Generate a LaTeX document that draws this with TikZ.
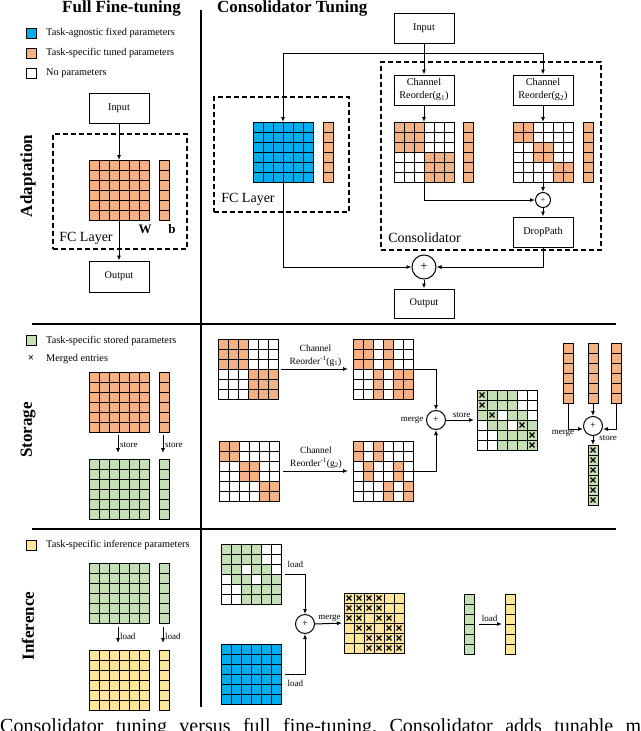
\documentclass[tikz,border=0pt]{standalone}
\usepackage{fontspec}
\setmainfont{Liberation Serif}
\usetikzlibrary{arrows.meta}
\definecolor{cB}{HTML}{00AEEF}
\definecolor{cO}{HTML}{F4B183}
\definecolor{cG}{HTML}{C5E0B4}
\definecolor{cY}{HTML}{FFE699}
\definecolor{cW}{HTML}{FFFFFF}
\newcommand\fs[2]{\fontsize{#1}{#2}\selectfont}
\tikzset{
  cellbase/.style={draw=black,line width=0.9pt},
  cellO/.style={cellbase,fill=cO},
  cellB/.style={cellbase,fill=cB},
  cellG/.style={cellbase,fill=cG},
  cellY/.style={cellbase,fill=cY},
  cellW/.style={cellbase,fill=cW},
  xmark/.style={path picture={\draw[line width=1.1pt,black] (path picture bounding box.center) +(-2.4,-2.4) -- +(2.4,2.4) +(-2.4,2.4) -- +(2.4,-2.4);}},
  cellGX/.style={cellG,xmark},
  cellYX/.style={cellY,xmark},
  mbox/.style={draw=none,inner sep=0,outer sep=0,anchor=north west},
  box/.style={draw,line width=0.9pt,fill=white,minimum width=60pt,minimum height=30pt,inner sep=1pt,align=center,font=\fs{10.3}{13}},
  dbox/.style={draw,line width=1.1pt,dash pattern=on 5pt off 3pt,inner sep=0},
  arr/.style={line width=1pt,-{Latex[length=5pt,width=4pt]}},
  plus/.style={circle,draw,line width=1pt,inner sep=0,fill=white},
  lbl/.style={font=\fs{9}{10},inner sep=1.5pt},
  leg/.style={draw,line width=0.8pt,minimum size=10pt,inner sep=0},
  legt/.style={anchor=west,font=\fs{10.3}{12},inner sep=0},
  sect/.style={rotate=90,font=\bfseries\fs{17}{20},inner sep=0},
  sep/.style={line width=1.2pt},
  big/.style={font=\fs{14}{16},inner sep=0},
  capw/.style={anchor=base west,font=\fs{20}{24},inner sep=0},
}
\newcommand\solid[6]{%
  \foreach \c in {1,...,#4} {\foreach \r in {1,...,#5} {
    \path[cell#6] ({#2+(\c-1)*10},{#3+(\r-1)*10}) rectangle ++(10,10);}}
  \node[mbox,minimum width=#4*10pt,minimum height=#5*10pt] (#1) at (#2,#3) {};
}
\newcommand\gridmat[6]{%
  \foreach \row [count=\r from 0] in {#6} {
    \foreach \f [count=\c from 0] in \row {
      \path[cell\f] ({#2+\c*10},{#3+\r*10}) rectangle ++(10,10);}}
  \node[mbox,minimum width=#4*10pt,minimum height=#5*10pt] (#1) at (#2,#3) {};
}
\begin{document}
\begin{tikzpicture}[x=1pt,y=-1pt]
\useasboundingbox (0,0) rectangle (640,731);
\clip (0,0) rectangle (640,731);
\fill[white] (0,0) rectangle (640,731);

% titles and dividers
\node[anchor=base west,font=\bfseries\fs{17}{20},inner sep=0] (T1) at (62,12.5) {Full Fine-tuning};
\node[anchor=base west,font=\bfseries\fs{17}{20},inner sep=0] (T2) at (217,12.5) {Consolidator Tuning};
\draw[sep] (201,10) -- (201,707);
\draw[sep] (32,324) -- (616,324);
\draw[sep] (32,529) -- (616,529);
\node[sect] (SA) at (28,176) {Adaptation};
\node[sect] (SS) at (28,430) {Storage};
\node[sect] (SI) at (28,626) {Inference};

% legends
\node[leg,fill=cB] (L1) at (31,33) {};
\node[legt] (L1t) at (46,33) {Task-agnostic fixed parameters};
\node[leg,fill=cO] (L2) at (31,53) {};
\node[legt] (L2t) at (46,53) {Task-specific tuned parameters};
\node[leg,fill=white] (L3) at (31,73) {};
\node[legt] (L3t) at (46,73) {No parameters};
\node[leg,fill=cG] (L4) at (31,340.5) {};
\node[legt] (L4t) at (46,340.5) {Task-specific stored parameters};
\node[font=\bfseries\fs{11}{12},inner sep=0] (L5) at (31,359) {×};
\node[legt] (L5t) at (46,359) {Merged entries};
\node[leg,fill=cY] (L6) at (31,545) {};
\node[legt] (L6t) at (46,545) {Task-specific inference parameters};

% ===== Adaptation: full fine-tuning
\node[dbox,minimum width=134pt,minimum height=115pt] (A_box) at (120,191.5) {};
\node[box] (A_in) at (119,108) {Input};
\solid{A_W}{89}{160}{6}{6}{O}
\solid{A_b}{159}{160}{1}{6}{O}
\node[box,minimum height=31pt] (A_out) at (119,276.5) {Output};
\draw[arr] (A_in) -- (A_W.north);
\draw[arr] (A_W.south) -- (A_out.north);
\node[font=\bfseries\fs{13}{15},inner sep=0] (A_Wl) at (145,229) {W};
\node[font=\bfseries\fs{13}{15},inner sep=0] (A_bl) at (172,229) {b};
\node[big] (A_fcl) at (86,238) {FC Layer};

% ===== Adaptation: consolidator
\node[dbox,minimum width=135pt,minimum height=115pt] (C_fcbox) at (281.5,154.5) {};
\node[dbox,minimum width=220pt,minimum height=188pt] (C_consbox) at (491,156) {};
\node[box] (C_in) at (424,28) {Input};
\node[box] (C_r1) at (424,90) {Channel\\Reorder(g\textsubscript{1})};
\node[box] (C_r2) at (543,90) {Channel\\Reorder(g\textsubscript{2})};
\solid{C_fc}{253}{122}{6}{6}{B}
\solid{C_fcb}{323}{122}{1}{6}{O}
\gridmat{C_g1}{394}{122}{6}{6}{{O,O,O,W,W,W},{O,O,O,W,W,W},{O,O,O,W,W,W},{W,W,W,O,O,O},{W,W,W,O,O,O},{W,W,W,O,O,O}}
\solid{C_g1b}{463}{122}{1}{6}{O}
\gridmat{C_g2}{513}{122}{6}{6}{{O,O,W,W,W,W},{O,O,W,W,W,W},{W,W,O,O,W,W},{W,W,O,O,W,W},{W,W,W,W,O,O},{W,W,W,W,O,O}}
\solid{C_g2b}{583}{122}{1}{6}{O}
\node[plus,minimum size=15pt] (C_cs) at (543,200) {\fs{8}{9}+};
\node[box] (C_dp) at (543,232) {DropPath};
\node[plus,minimum size=24pt] (C_big) at (424,267) {\fs{13}{14}+};
\node[box,minimum height=29pt] (C_out) at (424,303.5) {Output};
\coordinate (C_j) at (424,53);
\draw[arr] (C_in) -- (C_r1);
\draw[arr] (C_j) -| (C_fc.north);
\draw[arr] (C_j) -| (C_r2.north);
\draw[arr] (C_r1) -- (C_g1.north);
\draw[arr] (C_r2) -- (C_g2.north);
\draw[arr] (C_g1.south) |- (C_cs.west);
\draw[arr] (C_g2.south) -- (C_cs.north);
\draw[arr] (C_cs.south) -- (C_dp.north);
\draw[arr] (C_dp.south) |- (C_big.east);
\draw[arr] ([yshift=3pt]C_fc.south) |- (C_big.west);
\draw[arr] (C_big.south) -- (C_out.north);
\node[big] (C_fcl) at (248,199) {FC Layer};
\node[big] (C_consl) at (424.5,238) {Consolidator};

% ===== Storage: full fine-tuning
\solid{S_W}{89}{372}{6}{6}{O}
\solid{S_b}{159}{372}{1}{6}{O}
\solid{S_Wg}{89}{459}{6}{6}{G}
\solid{S_bg}{159}{459}{1}{6}{G}
\draw[arr,shorten <=3pt,shorten >=6pt] ([xshift=-1pt]S_W.south) -- ([xshift=-1pt]S_Wg.north) node[lbl,midway,right] (S_st1) {store};
\draw[arr,shorten <=3pt,shorten >=6pt] ([xshift=-1pt]S_b.south) -- ([xshift=-1pt]S_bg.north) node[lbl,midway,right] (S_st2) {store};

% ===== Storage: consolidator
\gridmat{S_g1}{218}{339}{6}{6}{{O,O,O,W,W,W},{O,O,O,W,W,W},{O,O,O,W,W,W},{W,W,W,O,O,O},{W,W,W,O,O,O},{W,W,W,O,O,O}}
\gridmat{S_g1r}{353}{339}{6}{6}{{O,O,W,O,W,W},{O,O,W,O,W,W},{O,O,W,O,W,W},{W,W,O,W,O,O},{W,W,O,W,O,O},{W,W,O,W,O,O}}
\gridmat{S_g2}{219}{441}{6}{6}{{O,O,W,W,W,W},{O,O,W,W,W,W},{W,W,O,O,W,W},{W,W,O,O,W,W},{W,W,W,W,O,O},{W,W,W,W,O,O}}
\gridmat{S_g2r}{353}{441}{6}{6}{{O,W,O,W,W,W},{O,W,O,W,W,W},{W,O,W,W,O,W},{W,O,W,W,O,W},{W,W,W,O,W,O},{W,W,W,O,W,O}}
\draw[arr,shorten <=3pt,shorten >=5pt] (S_g1.east) -- (S_g1r.west) node[midway,above,align=center,font=\fs{9.5}{13},inner sep=2pt] (S_lab1) {Channel\\Reorder\textsuperscript{-1}(g\textsubscript{1})};
\draw[arr,shorten <=4pt,shorten >=5pt] (S_g2.east) -- (S_g2r.west) node[midway,above,align=center,font=\fs{9.5}{13},inner sep=2pt] (S_lab2) {Channel\\Reorder\textsuperscript{-1}(g\textsubscript{2})};
\node[plus,minimum size=19pt] (S_c) at (436,420) {\fs{10}{11}+};
\draw[arr] (S_g1r.east) -| (S_c.north);
\draw[arr] (S_g2r.east) -| (S_c.south);
\node[lbl,anchor=east] (S_mg) at ([xshift=-1pt]S_c.west) {merge};
\gridmat{S_m}{477}{390}{6}{6}{{GX,G,G,G,W,W},{GX,G,G,G,W,W},{G,GX,W,G,G,W},{W,G,G,W,GX,G},{W,W,G,G,G,GX},{W,W,G,G,G,GX}}
\draw[arr,shorten >=3pt] (S_c.east) -- (S_m.west) node[lbl,midway,above] (S_st3) {store};
\solid{S_v1}{563}{343}{1}{6}{O}
\solid{S_v2}{588}{343}{1}{6}{O}
\solid{S_v3}{611}{343}{1}{6}{O}
\node[plus,minimum size=19pt] (S_cv) at (593,426) {\fs{10}{11}+};
\draw[arr] (S_v1.south) |- ([yshift=-3pt]S_cv.west);
\draw[arr] (S_v2.south) -- (S_cv.north);
\draw[arr] (S_v3.south) |- ([yshift=-3pt]S_cv.east);
\solid{S_vm}{588}{445}{1}{6}{GX}
\draw[arr] (S_cv.south) -- (S_vm.north);
\node[lbl] (S_mg2) at (563,433) {merge};
\node[lbl] (S_st4) at (608,438) {store};

% ===== Inference: full fine-tuning
\solid{I_Wg}{89}{563}{6}{6}{G}
\solid{I_bg}{159}{563}{1}{6}{G}
\solid{I_Wy}{89}{650}{6}{6}{Y}
\solid{I_by}{159}{650}{1}{6}{Y}
\draw[arr,shorten <=4pt,shorten >=7pt] ([xshift=-1pt]I_Wg.south) -- ([xshift=-1pt]I_Wy.north) node[lbl,midway,right] (I_ld1) {load};
\draw[arr,shorten <=4pt,shorten >=7pt] ([xshift=-1pt]I_bg.south) -- ([xshift=-1pt]I_by.north) node[lbl,midway,right] (I_ld2) {load};

% ===== Inference: consolidator
\gridmat{I_s}{221}{544}{6}{6}{{G,G,G,G,W,W},{G,G,G,G,W,W},{G,G,W,G,G,W},{W,G,G,W,G,G},{W,W,G,G,G,G},{W,W,G,G,G,G}}
\solid{I_bl}{221}{644}{6}{6}{B}
\node[plus,minimum size=19pt] (I_c) at (305,624) {\fs{10}{11}+};
\draw[arr,shorten <=4pt] (I_s.east) -| (I_c.north) node[lbl,pos=0.3,above,yshift=4pt] (I_ld3) {load};
\draw[arr,shorten <=4pt] (I_bl.east) -| (I_c.south) node[lbl,pos=0.3,below,yshift=-4pt] (I_ld4) {load};
\gridmat{I_y}{344}{593}{6}{6}{{YX,YX,YX,YX,Y,Y},{YX,YX,YX,YX,Y,Y},{YX,YX,Y,YX,YX,Y},{Y,YX,YX,Y,YX,YX},{Y,Y,YX,YX,YX,YX},{Y,Y,YX,YX,YX,YX}}
\draw[arr,shorten >=2pt] (I_c.east) -- (I_y.west) node[lbl,midway,above] (I_mg) {merge};
\solid{I_vg}{464}{594}{1}{6}{G}
\solid{I_vy}{505}{594}{1}{6}{Y}
\draw[arr,shorten <=5pt,shorten >=3pt] (I_vg.east) -- (I_vy.west) node[lbl,midway,above] (I_ld5) {load};

% ===== cut-off caption
\node[capw] (cap) at (0,732) {\hbox to 641pt{Consolidator\hfill tuning\hfill versus\hfill full\hfill fine-tuning.\hfill Consolidator\hfill adds\hfill tunable\hfill m}};
\end{tikzpicture}
\end{document}
